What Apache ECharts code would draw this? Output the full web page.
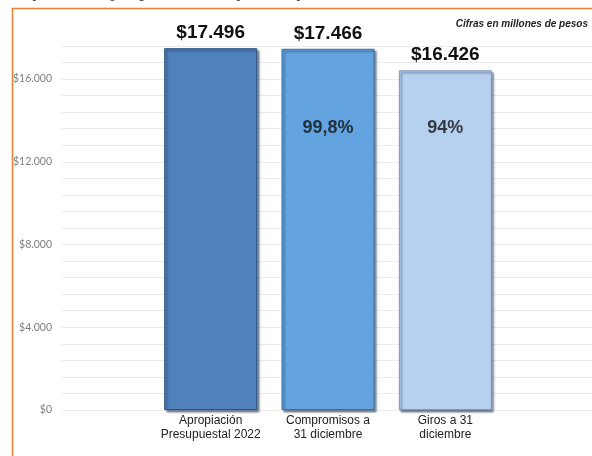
<!DOCTYPE html>
<html><head><meta charset="utf-8">
<script src="https://cdn.jsdelivr.net/npm/echarts@6/dist/echarts.min.js"></script>
<style>html,body{margin:0;padding:0;background:#fff;}#c{width:592px;height:456px;}</style>
</head><body><div id="c"></div>
<script>
const categories = ['Apropiación\nPresupuestal 2022', 'Compromisos a\n31 diciembre', 'Giros a 31\ndiciembre'];
const values = [17496, 17466, 16426];
const valueLabels = ['$17.496', '$17.466', '$16.426'];
const pctLabels = ['', '99,8%', '94%'];
const barColors = ['#4f81bd', '#62a3e0', '#b6d0ef'];
const borderColors = ['#2f5380', '#3a6ea3', '#7d97b8'];
const yTickStep = 4000;

const chart = echarts.init(document.getElementById('c'), null, {renderer: 'canvas'});
function fmt(v){ return '$' + String(v).replace(/\B(?=(\d{3})+(?!\d))/g, '.'); }
const pctY = 13650;

chart.setOption({
  animation: false,
  backgroundColor: '#ffffff',
  graphic: [
    {type: 'rect', left: 10, top: 6, shape: {width: 620, height: 480}, style: {fill: 'none', stroke: '#ed7d31', lineWidth: 1.5}},
    {type: 'text', right: 4, top: 19, style: {text: 'Cifras en millones de pesos', font: 'italic bold 10px Arial', fill: '#222'}},
    {type: 'text', left: -30, top: -21, style: {text: 'Presupuesto y ejecución presupuestal a 31 de diciembre', font: 'bold 22px Arial', fill: '#595959'}}
  ],
  grid: [
    {left: 62, right: 0, top: 46, bottom: 46},
    {left: 152, right: 88, top: 46, bottom: 46}
  ],
  xAxis: [
    {gridIndex: 0, type: 'value', show: false, min: 0, max: 1},
    {gridIndex: 1, type: 'category', data: categories,
     axisLine: {show: false}, axisTick: {show: false},
     axisLabel: {interval: 0, color: '#222', fontFamily: 'Arial', fontSize: 12, lineHeight: 14, margin: 4}}
  ],
  yAxis: [
    {gridIndex: 0, type: 'value', min: 0, max: 17600, interval: 800,
     axisLine: {show: false}, axisTick: {show: false},
     splitLine: {lineStyle: {color: '#ececec', width: 1}},
     axisLabel: {margin: 10, color: '#7f7f7f', fontFamily: 'Lato', fontSize: 10.5,
       formatter: v => (v % yTickStep === 0 ? fmt(v) : '')}},
    {gridIndex: 1, type: 'value', min: 0, max: 17600, show: false, splitLine: {show: false}}
  ],
  series: [
    {type: 'bar', xAxisIndex: 1, yAxisIndex: 1, barWidth: 93,
     data: values.map((v, i) => ({value: v,
       itemStyle: {color: barColors[i], borderColor: borderColors[i], borderWidth: 1,
         shadowColor: 'rgba(20,40,70,0.55)', shadowBlur: 2, shadowOffsetX: 2, shadowOffsetY: 2}})),
     label: {show: true, position: 'top', distance: 6, color: '#111',
       fontFamily: 'Arial', fontWeight: 'bold', fontSize: 19,
       formatter: p => valueLabels[p.dataIndex]}},
    {type: 'scatter', xAxisIndex: 1, yAxisIndex: 1, symbolSize: 0, silent: true,
     data: pctLabels.map((t, i) => [i, pctY]),
     label: {show: true, position: 'inside', color: '#111', fontFamily: 'Arial', fontWeight: 'bold', fontSize: 18,
       formatter: p => pctLabels[p.dataIndex]}}
  ]
});
</script></body></html>
